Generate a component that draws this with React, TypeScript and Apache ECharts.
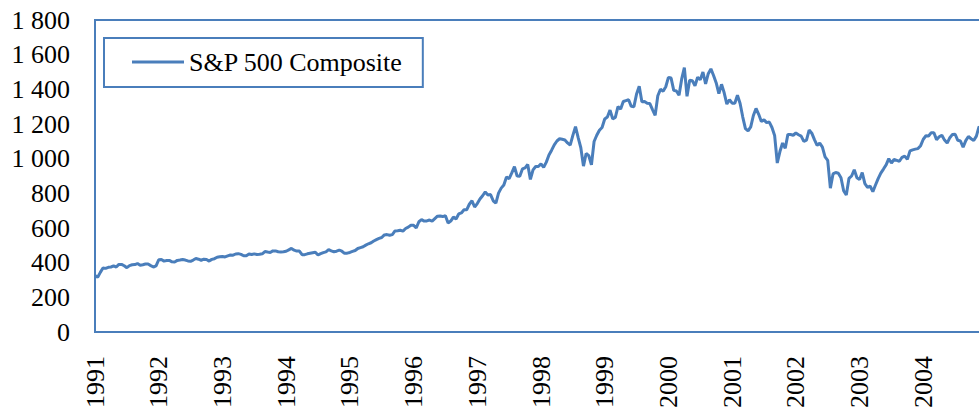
import React, { useEffect, useRef } from "react";
import * as echarts from "echarts";

// S&P 500 Composite: one value at mid-month and one at month end
const startValue = 326; // 1 Jan 1991
const y1991 = [316, 344, 369, 367, 373, 375, 381, 375, 390, 390, 382, 371, 383, 388, 389, 395, 385, 388, 392, 392, 383, 375, 381, 417];
const y1992 = [418, 409, 412, 413, 405, 404, 413, 415, 418, 415, 410, 408, 415, 424, 420, 414, 420, 418, 409, 419, 423, 431, 434, 436];
const y1993 = [433, 439, 444, 443, 450, 452, 448, 440, 440, 450, 447, 451, 447, 448, 451, 464, 461, 459, 468, 468, 463, 462, 463, 466];
const y1994 = [474, 482, 472, 467, 467, 446, 446, 451, 454, 457, 460, 444, 452, 458, 462, 475, 468, 463, 466, 472, 466, 454, 455, 459];
const y1995 = [465, 470, 482, 487, 492, 501, 509, 515, 525, 533, 540, 545, 560, 562, 558, 562, 583, 584, 587, 582, 597, 605, 616, 616];
const y1996 = [600, 636, 648, 640, 641, 646, 640, 654, 668, 669, 666, 671, 629, 640, 663, 652, 681, 687, 705, 705, 737, 757, 721, 741];
const y1997 = [767, 786, 808, 791, 793, 757, 743, 801, 830, 848, 894, 885, 918, 954, 900, 899, 941, 947, 966, 880, 935, 955, 955, 970];
const y1998 = [950, 980, 1021, 1049, 1080, 1102, 1115, 1112, 1108, 1091, 1078, 1134, 1185, 1121, 1063, 957, 1030, 1017, 965, 1099, 1135, 1164, 1180, 1229];
const y1999 = [1240, 1280, 1230, 1238, 1300, 1286, 1330, 1335, 1340, 1302, 1300, 1373, 1418, 1329, 1330, 1320, 1318, 1283, 1250, 1363, 1400, 1389, 1415, 1469];
const y2000 = [1465, 1394, 1390, 1366, 1460, 1525, 1360, 1452, 1450, 1421, 1470, 1455, 1500, 1431, 1490, 1518, 1480, 1437, 1375, 1429, 1380, 1315, 1340, 1320];
const y2001 = [1320, 1366, 1318, 1240, 1173, 1160, 1183, 1249, 1290, 1256, 1215, 1224, 1208, 1211, 1180, 1134, 975, 1041, 1090, 1060, 1140, 1139, 1135, 1148];
const y2002 = [1138, 1130, 1100, 1107, 1165, 1147, 1110, 1077, 1090, 1067, 1010, 990, 830, 912, 920, 916, 890, 815, 790, 886, 900, 936, 890, 880];
const y2003 = [920, 856, 835, 841, 810, 848, 885, 917, 940, 964, 1000, 975, 995, 990, 985, 1008, 1015, 996, 1045, 1051, 1055, 1058, 1075, 1112];
const y2004 = [1132, 1131, 1150, 1150, 1110, 1126, 1135, 1107, 1090, 1121, 1140, 1141, 1106, 1102, 1066, 1104, 1128, 1115, 1105, 1130, 1185, 1174, 1200, 1212];

const startYear = 1991;
const endYear = 2005;
const yTicks = { min: 0, max: 1800, interval: 200 };
const seriesName = "S&P 500 Composite";

const allValues = [startValue].concat(
  y1991, y1992, y1993, y1994, y1995, y1996, y1997,
  y1998, y1999, y2000, y2001, y2002, y2003, y2004
);

const FONT = "Times New Roman, Liberation Serif, serif";
const BLUE = "#4A7EBB";

export default function App() {
  const ref = useRef<HTMLDivElement>(null);

  useEffect(() => {
    document.body.style.margin = "0";
    document.body.style.overflow = "hidden";
    if (!ref.current) return;
    const chart = echarts.init(ref.current, undefined, { renderer: "svg" });
    const data = allValues.map((v, k) => [startYear + k / 24, v]);
    chart.setOption({
      animation: false,
      backgroundColor: "#ffffff",
      textStyle: { fontFamily: FONT },
      grid: {
        left: 95,
        top: 20,
        width: 892,
        height: 312,
        show: true,
        borderColor: BLUE,
        borderWidth: 2,
        containLabel: false,
      },
      legend: {
        left: 104,
        top: 38,
        orient: "horizontal",
        padding: [10, 20, 11, 28],
        borderColor: BLUE,
        borderWidth: 2,
        itemWidth: 52,
        itemHeight: 3,
        icon: "rect",
        textStyle: { fontFamily: FONT, fontSize: 26, color: "#000", lineHeight: 28 },
        data: [{ name: seriesName, icon: "rect" }],
      },
      xAxis: {
        type: "value",
        min: startYear,
        max: endYear,
        interval: 1,
        axisLine: { show: false },
        axisTick: { show: false },
        splitLine: { show: false },
        axisLabel: {
          rotate: 90,
          margin: 24,
          fontFamily: FONT,
          fontSize: 26,
          color: "#000",
          showMaxLabel: false,
          formatter: (v: number) => (v >= endYear ? "" : String(Math.round(v))),
        },
      },
      yAxis: {
        type: "value",
        min: yTicks.min,
        max: yTicks.max,
        interval: yTicks.interval,
        axisLine: { show: false },
        axisTick: { show: false },
        splitLine: { show: false },
        axisLabel: {
          margin: 25,
          fontFamily: FONT,
          fontSize: 26,
          color: "#000",
          formatter: (v: number) => String(v).replace(/\B(?=(\d{3})+(?!\d))/g, " "),
        },
      },
      series: [
        {
          name: seriesName,
          type: "line",
          data,
          symbol: "none",
          showSymbol: false,
          smooth: false,
          color: BLUE,
          lineStyle: { color: BLUE, width: 3 },
        },
      ],
    });
    return () => chart.dispose();
  }, []);

  return (
    <div
      ref={ref}
      style={{ position: "absolute", left: 0, top: 0, width: 1000, height: 414 }}
    />
  );
}
